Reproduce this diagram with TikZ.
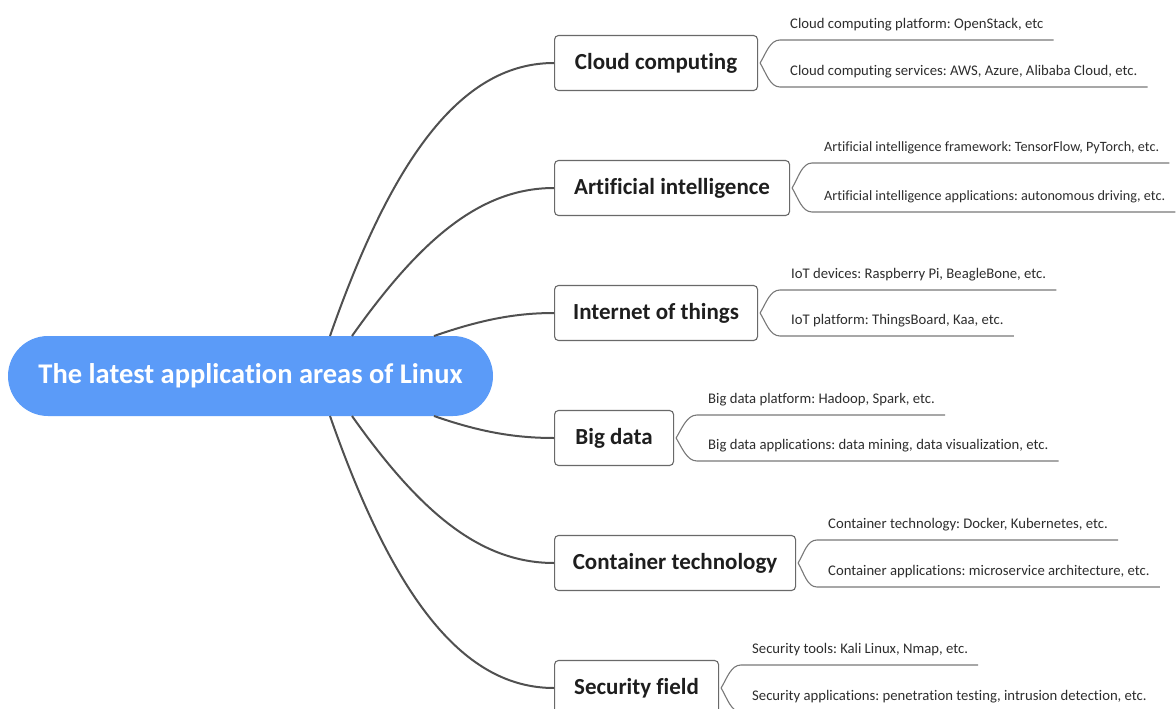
\documentclass[tikz,border=0pt]{standalone}
\usepackage{fontspec}
\setmainfont{Carlito}[Ligatures=NoCommon]
\usetikzlibrary{calc}
\frenchspacing
\definecolor{rootblue}{RGB}{91,155,248}
\definecolor{trunkgray}{RGB}{80,80,80}
\definecolor{boxgray}{RGB}{105,105,105}
\definecolor{twiggray}{RGB}{120,120,120}
\definecolor{inkdark}{RGB}{30,30,30}
\definecolor{leafink}{RGB}{45,45,45}
\begin{document}
\begin{tikzpicture}[x=1pt,y=-1pt,
  rootnode/.style={fill=rootblue, rounded corners=40pt, minimum width=485pt, minimum height=80pt,
    text=white, font=\fontsize{28.5}{34}\selectfont\bfseries, inner sep=0pt},
  branch/.style={draw=boxgray, line width=1.1pt, rounded corners=4pt, fill=white, anchor=west,
    minimum height=55pt, inner sep=0pt, text=inkdark, font=\fontsize{23}{27}\selectfont\bfseries},
  leaf/.style={anchor=south west, inner xsep=0pt, inner ysep=9pt, text=leafink,
    font=\fontsize{14.7}{18}\selectfont},
  leafsmall/.style={leaf, font=\fontsize{14.2}{17}\selectfont},
  trunk/.style={draw=trunkgray, line width=2pt},
  twig/.style={draw=twiggray, line width=1.1pt},
]
\useasboundingbox (0,0) rectangle (1176,709);

% central topic
\node[rootnode] (root) at (250.5,376) {The latest application areas of Linux};
\coordinate (o1) at (330,336);
\coordinate (o2) at (352,336);
\coordinate (o3) at (434,336);
\coordinate (o4) at (434,416);
\coordinate (o5) at (352,416);
\coordinate (o6) at (330,416);

% main branches
\node[branch, minimum width=203pt] (cloud) at (554,63)  {Cloud computing};
\node[branch, minimum width=235pt] (ai)    at (554,188) {Artificial intelligence};
\node[branch, minimum width=203pt] (iot)   at (554,313) {Internet of things};
\node[branch, minimum width=119pt] (big)   at (554,438) {Big data};
\node[branch, minimum width=241pt] (cont)  at (554,563) {Container technology};
\node[branch, minimum width=164pt] (sec)   at (554,688) {Security field};

\draw[trunk] (o1) .. controls (395,150) and (465,63) .. (cloud.west);
\draw[trunk] (o2) .. controls (420,240) and (480,188) .. (ai.west);
\draw[trunk] (o3) .. controls (480,320) and (515,313) .. (iot.west);
\draw[trunk] (o4) .. controls (480,432) and (515,438) .. (big.west);
\draw[trunk] (o5) .. controls (420,512) and (480,563) .. (cont.west);
\draw[trunk] (o6) .. controls (395,602) and (465,688) .. (sec.west);

% leaves: text sits on an underline that starts at a bracket by its branch
\newcommand{\leafpair}[9]{%
  % #1 branch, #2 line start x, #3 text x, #4 upper y, #5 lower y, #6 upper text, #7 lower text, #8 name, #9 style
  \node[#9] (#8a) at (#3,#4) {#6};
  \node[#9] (#8b) at (#3,#5) {#7};
  \coordinate (#8u) at (#2,#4);
  \coordinate (#8l) at (#2,#5);
  \draw[twig] ([xshift=2pt]#1.east) .. controls +(6,-10) and +(-10,0) .. (#8u) -- ([xshift=10pt]#8a.south east);
  \draw[twig] ([xshift=2pt]#1.east) .. controls +(6,10) and +(-10,0) .. (#8l) -- ([xshift=10pt]#8b.south east);
}
\leafpair{cloud}{780}{790}{40}{87}{Cloud computing platform: OpenStack, etc}{Cloud computing services: AWS, Azure, Alibaba Cloud, etc.}{c}{leaf}
\leafpair{ai}{812}{824}{163}{212}{Artificial intelligence framework: TensorFlow, PyTorch, etc.}{Artificial intelligence applications: autonomous driving, etc.}{a}{leafsmall}
\leafpair{iot}{780}{791}{290}{336}{IoT devices: Raspberry Pi, BeagleBone, etc.}{IoT platform: ThingsBoard, Kaa, etc.}{i}{leaf}
\leafpair{big}{697}{708}{415}{461}{Big data platform: Hadoop, Spark, etc.}{Big data applications: data mining, data visualization, etc.}{b}{leaf}
\leafpair{cont}{817}{828}{540}{587}{Container technology: Docker, Kubernetes, etc.}{Container applications: microservice architecture, etc.}{k}{leaf}
\leafpair{sec}{741}{752}{665}{712}{Security tools: Kali Linux, Nmap, etc.}{Security applications: penetration testing, intrusion detection, etc.}{s}{leaf}
\end{tikzpicture}
\end{document}
